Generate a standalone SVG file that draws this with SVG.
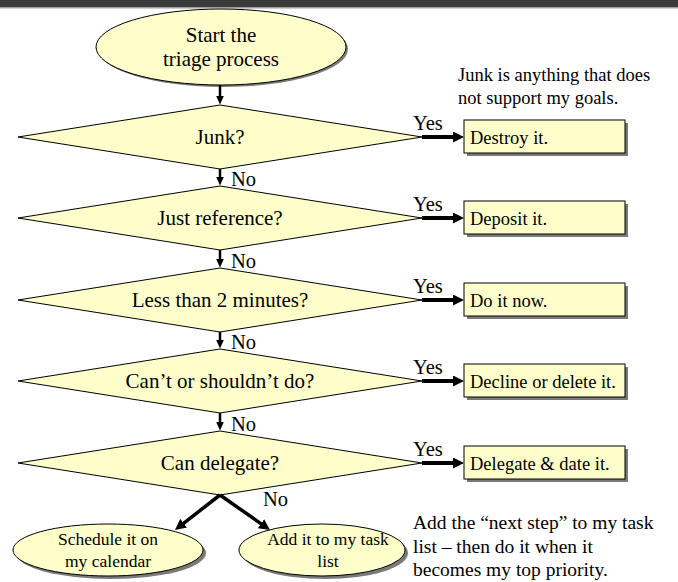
<svg xmlns="http://www.w3.org/2000/svg" width="678" height="582" viewBox="0 0 678 582">
<style>
.t{font-family:"Liberation Serif","Times New Roman",serif;fill:#000}
.big{font-size:21px}
.lbl{font-size:20.5px}
.sm{font-size:18.5px}
.el{font-size:17.5px}
.nt{font-size:19.5px}
.shape{fill:#FFFFCC;stroke:#000;stroke-width:1}
.sh{fill:#7a7a7a}
.av{stroke:#000;stroke-width:2.5;fill:none}
.ah{stroke:#000;stroke-width:4;fill:none}
.ad{stroke:#000;stroke-width:3.5;fill:none}
</style>
<defs>
<marker id="mv" markerUnits="userSpaceOnUse" markerWidth="9" markerHeight="10" viewBox="0 0 10 9" refX="5" refY="4.5" orient="auto"><path d="M0,0 L10,4.5 L0,9 z" fill="#000"/></marker>
<marker id="mh" markerUnits="userSpaceOnUse" markerWidth="11" markerHeight="11" viewBox="0 0 11 11" refX="5" refY="5.5" orient="auto"><path d="M0,0 L11,5.5 L0,11 z" fill="#000"/></marker>
</defs>
<rect x="0" y="0" width="678" height="7" fill="#3a3a3a"/>
<rect x="0" y="7" width="678" height="1.5" fill="#a0a0a0"/>

<g id="start">
<ellipse class="sh" cx="223" cy="49" rx="125" ry="38"/>
<ellipse class="shape" cx="221" cy="47" rx="125" ry="38"/>
<text class="t big" x="221" y="42" text-anchor="middle">Start the</text>
<text class="t big" x="221" y="66" text-anchor="middle">triage process</text>
</g>

<g id="d1"><polygon class="shape" points="18,137 220,105 422,137 220,169"/><text class="t big" x="220" y="144" text-anchor="middle">Junk?</text></g>
<g id="d2"><polygon class="shape" points="18,218 220,186 422,218 220,250"/><text class="t big" x="220" y="225" text-anchor="middle">Just reference?</text></g>
<g id="d3"><polygon class="shape" points="18,300 220,268 422,300 220,332"/><text class="t big" x="220" y="307" text-anchor="middle">Less than 2 minutes?</text></g>
<g id="d4"><polygon class="shape" points="18,381 220,349 422,381 220,413"/><text class="t big" x="220" y="388" text-anchor="middle">Can’t or shouldn’t do?</text></g>
<g id="d5"><polygon class="shape" points="18,463 220,431 422,463 220,495"/><text class="t big" x="220" y="470" text-anchor="middle">Can delegate?</text></g>

<g id="b1"><rect class="sh" x="467" y="123" width="161" height="33"/><rect class="shape" x="464" y="120" width="161" height="33"/><text class="t sm" x="470" y="144">Destroy it.</text></g>
<g id="b2"><rect class="sh" x="467" y="204" width="161" height="33"/><rect class="shape" x="464" y="201" width="161" height="33"/><text class="t sm" x="470" y="225">Deposit it.</text></g>
<g id="b3"><rect class="sh" x="467" y="286" width="161" height="33"/><rect class="shape" x="464" y="283" width="161" height="33"/><text class="t sm" x="470" y="307">Do it now.</text></g>
<g id="b4"><rect class="sh" x="467" y="367" width="161" height="33"/><rect class="shape" x="464" y="364" width="161" height="33"/><text class="t sm" x="470" y="388">Decline or delete it.</text></g>
<g id="b5"><rect class="sh" x="467" y="449" width="161" height="33"/><rect class="shape" x="464" y="446" width="161" height="33"/><text class="t sm" x="470" y="470">Delegate &amp; date it.</text></g>

<g id="e1">
<ellipse class="sh" cx="111" cy="553" rx="95" ry="26"/>
<ellipse class="shape" cx="108" cy="550" rx="95" ry="26"/>
<text class="t el" x="108" y="545" text-anchor="middle">Schedule it on</text>
<text class="t el" x="108" y="567" text-anchor="middle">my calendar</text>
</g>
<g id="e2">
<ellipse class="sh" cx="325" cy="553" rx="83" ry="26"/>
<ellipse class="shape" cx="322" cy="550" rx="83" ry="26"/>
<text class="t el" x="328" y="545" text-anchor="middle">Add it to my task</text>
<text class="t el" x="328" y="567" text-anchor="middle">list</text>
</g>

<g id="connectors">
<line class="av" x1="220" y1="85" x2="220" y2="100" marker-end="url(#mv)"/>
<line class="av" x1="220" y1="169" x2="220" y2="181" marker-end="url(#mv)"/>
<line class="av" x1="220" y1="250" x2="220" y2="263" marker-end="url(#mv)"/>
<line class="av" x1="220" y1="332" x2="220" y2="344" marker-end="url(#mv)"/>
<line class="av" x1="220" y1="413" x2="220" y2="426" marker-end="url(#mv)"/>
<line class="ah" x1="422" y1="137" x2="458" y2="137" marker-end="url(#mh)"/>
<line class="ah" x1="422" y1="218" x2="458" y2="218" marker-end="url(#mh)"/>
<line class="ah" x1="422" y1="300" x2="458" y2="300" marker-end="url(#mh)"/>
<line class="ah" x1="422" y1="381" x2="458" y2="381" marker-end="url(#mh)"/>
<line class="ah" x1="422" y1="463" x2="458" y2="463" marker-end="url(#mh)"/>
<line class="ad" x1="220" y1="495" x2="179.7" y2="526.3" marker-end="url(#mh)"/>
<line class="ad" x1="220" y1="495" x2="265.1" y2="526.6" marker-end="url(#mh)"/>
<text class="t lbl" x="231" y="186">No</text>
<text class="t lbl" x="231" y="268">No</text>
<text class="t lbl" x="231" y="349">No</text>
<text class="t lbl" x="231" y="431">No</text>
<text class="t lbl" x="263" y="506">No</text>
<text class="t lbl" x="413" y="130">Yes</text>
<text class="t lbl" x="413" y="211">Yes</text>
<text class="t lbl" x="413" y="293">Yes</text>
<text class="t lbl" x="413" y="374">Yes</text>
<text class="t lbl" x="413" y="456">Yes</text>
</g>

<g id="notes">
<text class="t sm" x="458" y="81">Junk is anything that does</text>
<text class="t sm" x="458" y="104">not support my goals.</text>
<text class="t nt" x="413" y="529">Add the “next step” to my task</text>
<text class="t nt" x="413" y="553">list – then do it when it</text>
<text class="t nt" x="413" y="576">becomes my top priority.</text>
</g>
</svg>
